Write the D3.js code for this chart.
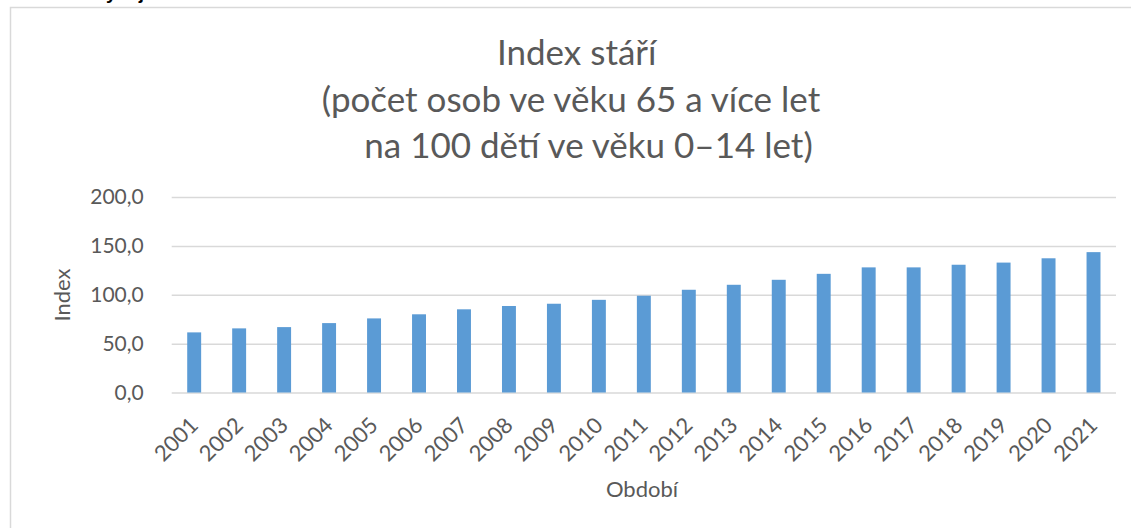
<!DOCTYPE html>
<html>
<head>
<meta charset="utf-8">
<script src="https://cdn.jsdelivr.net/npm/d3@7"></script>
<style>
  html, body { margin: 0; padding: 0; background: #fff; }
  svg { display: block; }
  text { font-family: Lato, "Open Sans", sans-serif; fill: #595959; }
</style>
</head>
<body>
<div id="chart"></div>
<script>
// Plot constants
const WIDTH = 1131;
const HEIGHT = 528;

// data
const years = ["2001", "2002", "2003", "2004", "2005", "2006", "2007", "2008", "2009", "2010", "2011",
  "2012", "2013", "2014", "2015", "2016", "2017", "2018", "2019", "2020", "2021"];
const indexValues = [61.5, 65.6, 66.9, 71.0, 75.8, 80.0, 85.1, 88.5, 90.8, 94.8, 99.0,
  105.1, 110.2, 115.3, 121.4, 128.0, 128.0, 130.7, 132.9, 137.3, 143.6];
const yTicks = [0, 50, 100, 150, 200];
const titleLines = ["Index stáří", "(počet osob ve věku 65 a více let", "na 100 dětí ve věku 0–14 let)"];

// czech number format 0,0
const cz = d3.formatLocale({decimal: ",", thousands: " ", grouping: [3], currency: ["", " Kč"]});
const fmt = cz.format(".1f");

const svg = d3.select("#chart")
  .append("svg")
  .attr("width", WIDTH)
  .attr("height", HEIGHT);

// caption above the chart frame, mostly outside the screenshot
svg.append("text")
  .attr("x", 12)
  .attr("y", -1)
  .style("font-family", "'Liberation Sans', Arial, sans-serif")
  .style("font-weight", "bold")
  .style("font-size", "19px")
  .style("fill", "#000")
  .text("Graf č. 1 Vývoj indexu stáří v letech 2001–2021");

// chart frame (only top and left edge are in view)
svg.append("path")
  .attr("d", "M10.5,540 V7.5 H1140")
  .attr("fill", "none")
  .attr("stroke", "#d9d9d9")
  .attr("stroke-width", 1.5);

// scales
const x = d3.scaleBand()
  .domain(years)
  .range([171.7, 1116])
  .paddingInner(0.69)
  .paddingOuter(0.345);

const y = d3.scaleLinear()
  .domain([0, 200])
  .range([392.5, 197]);

// gridlines + y tick labels
const yAxis = d3.axisLeft(y)
  .tickValues(yTicks)
  .tickFormat(fmt)
  .tickSize(-(1116 - 171.7))
  .tickPadding(28);

const gy = svg.append("g")
  .attr("transform", "translate(171.7,0)")
  .call(yAxis);
gy.select(".domain").remove();
gy.selectAll(".tick line").attr("stroke", "#d9d9d9").attr("stroke-width", 1.5);
gy.selectAll(".tick text")
  .style("font-size", "21px")
  .attr("fill", "#595959");

// bars
svg.append("g")
  .selectAll("rect")
  .data(years)
  .join("rect")
  .attr("x", (d) => x(d))
  .attr("width", x.bandwidth())
  .attr("y", (d, i) => y(indexValues[i]))
  .attr("height", (d, i) => y(0) - y(indexValues[i]))
  .attr("fill", "#5b9bd5");

// x tick labels, rotated
const xAxis = d3.axisBottom(x).tickSize(0).tickPadding(0);
const gx = svg.append("g")
  .attr("transform", "translate(0,420)")
  .call(xAxis);
gx.select(".domain").remove();
gx.selectAll(".tick text")
  .attr("y", 0)
  .attr("dy", null)
  .attr("x", -1)
  .attr("dominant-baseline", "central")
  .attr("text-anchor", "end")
  .attr("transform", "rotate(-45)")
  .style("font-size", "22px")
  .attr("fill", "#595959");

// axis titles
svg.append("text")
  .attr("transform", "translate(61,295) rotate(-90)")
  .attr("text-anchor", "middle")
  .attr("dominant-baseline", "central")
  .style("font-size", "22px")
  .text("Index");

svg.append("text")
  .attr("x", 642)
  .attr("y", 497)
  .attr("text-anchor", "middle")
  .style("font-size", "22px")
  .text("Období");

// chart title (last line is indented a little in the original)
svg.append("g")
  .selectAll("text")
  .data(titleLines)
  .join("text")
  .attr("x", (d, i) => (i === 2 ? 588.5 : i === 1 ? 571 : 576.7))
  .attr("y", (d, i) => 65 + i * 46.5)
  .attr("text-anchor", "middle")
  .style("font-size", "35px")
  .text((d) => d);
</script>
</body>
</html>
